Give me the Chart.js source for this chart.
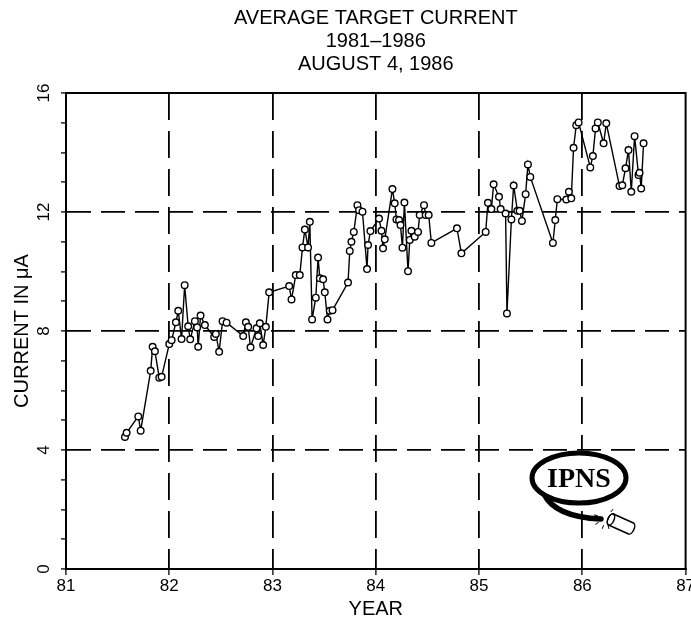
<!DOCTYPE html>
<html>
<head>
<meta charset="utf-8">
<script src="https://cdn.jsdelivr.net/npm/chart.js@4/dist/chart.umd.min.js"></script>
<style>
html,body{margin:0;padding:0;background:#fff;}
canvas{display:block;}
</style>
</head>
<body>
<canvas id="c" width="691" height="627"></canvas>
<script>
// ---- data ----
const titleLines = ['AVERAGE TARGET CURRENT', '1981\u20131986', 'AUGUST 4, 1986'];
const xAxisTitle = 'YEAR';
const yAxisTitle = 'CURRENT IN \u03BCA';
const xTickValues = [81, 82, 83, 84, 85, 86, 87];
const yTickLabels = [0, 4, 8, 12, 16];
const logoText = 'IPNS';

const years = [
  81.571, 81.587, 81.700, 81.723, 81.820, 81.839, 81.861, 81.903, 81.926,
  82.000, 82.023, 82.064, 82.087, 82.119, 82.149, 82.183, 82.203, 82.248, 82.270,
  82.280, 82.303, 82.345, 82.435, 82.451, 82.483, 82.516, 82.555, 82.716, 82.742,
  82.764, 82.787, 82.845, 82.861, 82.877, 82.909, 82.935, 82.967,
  83.161, 83.184, 83.225, 83.264, 83.290, 83.313, 83.344, 83.361, 83.383, 83.419,
  83.441, 83.458, 83.490, 83.506, 83.532, 83.554, 83.581, 83.731, 83.748, 83.764,
  83.787, 83.822, 83.838, 83.871, 83.915, 83.925, 83.948,
  84.031, 84.055, 84.070, 84.087, 84.161, 84.183, 84.200, 84.225, 84.239, 84.258,
  84.277, 84.312, 84.329, 84.345, 84.377, 84.409, 84.425, 84.467, 84.483, 84.512,
  84.538, 84.786, 84.829,
  85.064, 85.086, 85.119, 85.141, 85.193, 85.209, 85.257, 85.270, 85.313, 85.335,
  85.371, 85.393, 85.415, 85.451, 85.473, 85.496, 85.715, 85.738, 85.758, 85.845,
  85.870, 85.893, 85.915, 85.941, 85.964,
  86.077, 86.102, 86.128, 86.150, 86.206, 86.232, 86.360, 86.387, 86.418, 86.447,
  86.474, 86.506, 86.544, 86.554, 86.570, 86.593
];
const current = [
  4.44, 4.58, 5.13, 4.65, 6.66, 7.47, 7.32, 6.43, 6.46,
  7.56, 7.69, 8.29, 8.68, 7.73, 9.54, 8.16, 7.72, 8.33, 8.12,
  7.47, 8.52, 8.20, 7.80, 7.90, 7.30, 8.33, 8.28, 7.83, 8.29,
  8.14, 7.45, 8.09, 7.83, 8.26, 7.53, 8.14, 9.30,
  9.51, 9.06, 9.88, 9.88, 10.81, 11.41, 10.81, 11.67, 8.39, 9.12,
  10.47, 9.77, 9.74, 9.30, 8.39, 8.68, 8.70, 9.63, 10.69, 11.00,
  11.33, 12.23, 12.06, 12.01, 10.08, 10.89, 11.36,
  11.78, 11.37, 10.78, 11.08, 12.77, 12.29, 11.75, 11.73, 11.56, 10.80,
  12.32, 10.01, 11.06, 11.37, 11.17, 11.33, 11.90, 12.23, 11.90, 11.90,
  10.96, 11.45, 10.61,
  11.33, 12.31, 12.10, 12.93, 12.51, 12.10, 11.95, 8.59, 11.75, 12.89,
  12.04, 12.04, 11.70, 12.60, 13.60, 13.18, 10.96, 11.73, 12.43, 12.42,
  12.68, 12.46, 14.16, 14.92, 15.01,
  13.50, 13.88, 14.81, 15.01, 14.31, 14.98, 12.87, 12.90, 13.47, 14.08,
  12.68, 14.55, 13.24, 13.32, 12.79, 14.31
];

const FONT = "'Liberation Sans', Arial, sans-serif";

const bgPlugin = {
  id: 'bg',
  beforeDraw(chart) {
    const c = chart.ctx;
    c.save(); c.fillStyle = '#fff'; c.fillRect(0, 0, chart.width, chart.height); c.restore();
  }
};

const framePlugin = {
  id: 'frame',
  afterDraw(chart) {
    const {ctx: c, chartArea: a} = chart;
    c.save();
    c.strokeStyle = '#000'; c.lineWidth = 2;
    c.strokeRect(a.left, a.top, a.right - a.left, a.bottom - a.top);
    // title
    c.fillStyle = '#000';
    c.font = '20px ' + FONT;
    c.textAlign = 'center'; c.textBaseline = 'middle';
    const cx = (a.left + a.right) / 2;
    titleLines.forEach((t, i) => c.fillText(t, cx, 18 + i * 23));
    c.restore();
  }
};

const logoPlugin = {
  id: 'logo',
  afterDraw(chart) {
    const c = chart.ctx;
    c.save();
    // tail
    c.strokeStyle = '#000'; c.lineCap = 'round';
    c.lineWidth = 5.5;
    c.beginPath();
    c.moveTo(544, 494);
    c.quadraticCurveTo(555, 517, 601, 519);
    c.stroke();
    // sparkles
    c.lineWidth = 1;
    const sx = 606, sy = 518;
    [[-0.2, 8, 12], [0.6, 8, 12], [1.3, 8, 11], [1.9, 8, 11], [2.6, 9, 12], [-0.9, 8, 11], [3.4, 9, 12]].forEach(([ang, r1, r2]) => {
      c.beginPath();
      c.moveTo(sx + Math.cos(ang) * r1, sy + Math.sin(ang) * r1);
      c.lineTo(sx + Math.cos(ang) * r2, sy + Math.sin(ang) * r2);
      c.stroke();
    });
    // cylinder
    c.translate(621, 524);
    c.rotate(0.42);
    c.fillStyle = '#fff';
    c.lineWidth = 1.5;
    c.beginPath();
    c.moveTo(-11, -6); c.lineTo(11, -6);
    c.ellipse(11, 0, 3, 6, 0, -Math.PI / 2, Math.PI / 2);
    c.lineTo(-11, 6);
    c.ellipse(-11, 0, 3, 6, 0, Math.PI / 2, Math.PI * 1.5);
    c.closePath();
    c.fill(); c.stroke();
    c.beginPath();
    c.ellipse(-11, 0, 3, 6, 0, 0, Math.PI * 2);
    c.stroke();
    c.setTransform(1, 0, 0, 1, 0, 0);
    // ellipse
    c.fillStyle = '#fff';
    c.strokeStyle = '#000';
    c.lineWidth = 5;
    c.beginPath();
    c.ellipse(579, 478, 47, 25, 0, 0, Math.PI * 2);
    c.fill(); c.stroke();
    c.fillStyle = '#000';
    c.font = "bold 28px 'Liberation Serif', 'DejaVu Serif', serif";
    c.textAlign = 'center'; c.textBaseline = 'middle';
    c.fillText(logoText, 579, 480);
    c.restore();
  }
};

const isInnerGrid = (v, lo, hi) => v > lo && v < hi;

new Chart(document.getElementById('c'), {
  type: 'line',
  data: {
    datasets: [{
      data: years.map((x, i) => ({x: x, y: current[i]})),
      borderColor: '#000',
      borderWidth: 1.4,
      pointRadius: 3.3,
      pointBackgroundColor: '#fff',
      pointBorderColor: '#000',
      pointBorderWidth: 1.4,
      tension: 0,
      fill: false
    }]
  },
  options: {
    responsive: false,
    animation: false,
    devicePixelRatio: 1,
    layout: {padding: {top: 93, left: 0, right: 5, bottom: 0}},
    plugins: {legend: {display: false}, tooltip: {enabled: false}, title: {display: false}},
    scales: {
      x: {
        type: 'linear', min: 81, max: 87,
        afterBuildTicks: s => { s.ticks = xTickValues.map(v => ({value: v})); },
        afterFit: s => { s.height = 58; s.paddingLeft = 0; s.paddingRight = 0; },
        ticks: {color: '#000', font: {family: FONT, size: 17}, padding: 1, maxRotation: 0, autoSkip: false,
                callback: v => String(v)},
        grid: {
          color: ctx => (ctx.tick && isInnerGrid(ctx.tick.value, 81, 87)) ? '#000' : 'rgba(0,0,0,0)',
          lineWidth: 1.8,
          tickColor: '#000', tickLength: 6, tickWidth: 1.3, tickBorderDash: []
        },
        border: {display: true, color: '#000', width: 2, dash: [27, 11]},
        title: {display: true, text: xAxisTitle, color: '#000', font: {family: FONT, size: 20}, padding: {top: 0, bottom: 6}}
      },
      y: {
        min: 0, max: 16,
        afterFit: s => { s.width = 66; },
        ticks: {stepSize: 1, autoSkip: false, color: '#000', font: {family: FONT, size: 17},
                minRotation: 90, maxRotation: 90, crossAlign: 'center', padding: 7,
                callback: v => yTickLabels.includes(v) ? String(v) : ''},
        grid: {
          color: ctx => (ctx.tick && yTickLabels.includes(ctx.tick.value) && isInnerGrid(ctx.tick.value, 0, 16)) ? '#000' : 'rgba(0,0,0,0)',
          lineWidth: 1.8,
          tickColor: '#000', tickLength: 5, tickWidth: 1.3, tickBorderDash: []
        },
        border: {display: true, color: '#000', width: 2, dash: [24, 10]},
        title: {display: true, text: yAxisTitle, color: '#000', font: {family: FONT, size: 20}, padding: {top: 10, bottom: 0}}
      }
    }
  },
  plugins: [bgPlugin, framePlugin, logoPlugin]
});
</script>
</body>
</html>
